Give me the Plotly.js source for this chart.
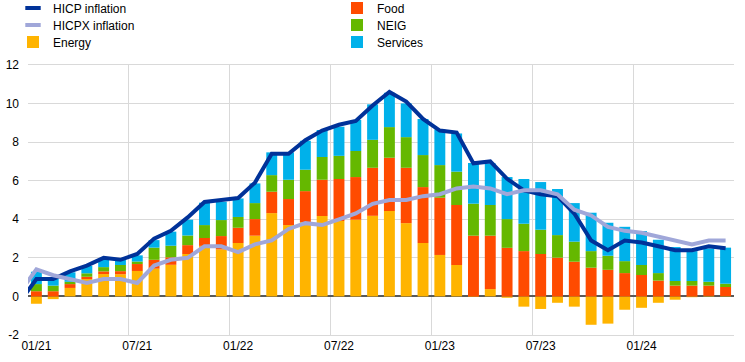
<!DOCTYPE html>
<html><head><meta charset="utf-8">
<script src="https://cdn.plot.ly/plotly-3.0.1.min.js"></script>
<style>html,body{margin:0;padding:0;background:#fff}#chart{width:745px;height:362px}</style>
</head><body><div id="chart"></div>
<script>
const months = ['12/20','01/21','02/21','03/21','04/21','05/21','06/21','07/21','08/21','09/21','10/21','11/21','12/21',
  '01/22','02/22','03/22','04/22','05/22','06/22','07/22','08/22','09/22','10/22','11/22','12/22',
  '01/23','02/23','03/23','04/23','05/23','06/23','07/23','08/23','09/23','10/23','11/23','12/23',
  '01/24','02/24','03/24','04/24','05/24','06/24'];
const energy = [null,-0.38,-0.14,0.44,0.90,1.16,1.15,1.32,1.44,1.64,2.20,2.62,2.44,
  2.77,3.15,4.32,3.70,3.86,4.17,3.91,3.98,4.18,4.43,3.80,2.77,
  2.15,1.63,-0.03,0.38,-0.07,-0.53,-0.65,-0.33,-0.53,-1.47,-1.41,-0.69,
  -0.59,-0.33,-0.17,-0.04,0.03,0.02];
const food = [null,0.27,0.27,0.20,0.12,0.14,0.16,0.36,0.46,0.39,0.46,0.41,0.69,
  0.79,0.86,1.11,1.35,1.60,1.88,2.18,2.21,2.49,2.76,2.87,2.90,
  2.97,3.11,3.15,2.77,2.52,2.35,2.20,2.01,1.80,1.49,1.38,1.21,
  1.11,0.82,0.56,0.56,0.53,0.47];
const neig = [null,0.37,0.29,0.12,0.18,0.22,0.32,0.13,0.63,0.60,0.50,0.67,0.83,
  0.56,0.83,0.86,1.00,1.11,1.18,1.20,1.35,1.45,1.59,1.59,1.66,
  1.69,1.73,1.66,1.59,1.49,1.42,1.26,1.17,1.04,0.86,0.73,0.62,
  0.52,0.39,0.24,0.24,0.20,0.17];
const services = [null,0.64,0.36,0.49,0.38,0.43,0.27,0.32,0.39,0.73,0.82,1.16,0.95,
  0.96,1.02,1.18,1.42,1.50,1.40,1.51,1.61,1.84,1.78,1.75,1.87,
  1.85,1.98,2.11,2.16,2.18,2.32,2.47,2.39,2.00,1.99,1.71,1.78,
  1.76,1.73,1.76,1.55,1.73,1.87];
const hicp = [-0.3,0.9,0.9,1.3,1.6,2.0,1.9,2.2,3.0,3.4,4.1,4.9,5.0,
  5.1,5.9,7.4,7.4,8.1,8.6,8.9,9.1,9.9,10.6,10.1,9.2,
  8.6,8.5,6.9,7.0,6.1,5.5,5.3,5.2,4.3,2.9,2.4,2.9,
  2.8,2.6,2.4,2.4,2.6,2.5];
const hicpx = [0.2,1.4,1.1,0.9,0.7,0.9,0.9,0.7,1.6,1.9,2.0,2.6,2.6,
  2.3,2.7,2.9,3.5,3.8,3.7,4.0,4.3,4.8,5.0,5.0,5.2,
  5.3,5.6,5.7,5.6,5.3,5.5,5.5,5.3,4.5,4.2,3.6,3.4,
  3.3,3.1,2.9,2.7,2.9,2.9];
const yTicks = [-2,0,2,4,6,8,10,12];

const C = {hicp:'#003299', hicpx:'#a0a7d9', energy:'#ffb400', food:'#ff4b00', neig:'#65b800', services:'#00b1ea'};

function bar(name, y, color, legend, rank) {
  return {type:'bar', name, x:months, y, marker:{color, line:{width:0}}, legend, legendrank:rank, hoverinfo:'skip'};
}
function legendLine(name, color, legend, rank) {
  return {type:'scatter', mode:'markers', name, x:[null], y:[null], legend, legendrank:rank,
    marker:{symbol:'line-ew', size:11, color, line:{color, width:4}}};
}
const data = [
  bar('Energy', energy, C.energy, 'legend3', 1),
  bar('Food', food, C.food, 'legend', 2),
  bar('NEIG', neig, C.neig, 'legend2', 2),
  bar('Services', services, C.services, 'legend3', 2),
  {type:'scatter', mode:'lines', name:'HICP inflation', x:months, y:hicp, showlegend:false,
    line:{color:C.hicp, width:4}},
  {type:'scatter', mode:'lines', name:'HICPX inflation', x:months, y:hicpx, showlegend:false,
    line:{color:C.hicpx, width:4}},
  legendLine('HICP inflation', C.hicp, 'legend', 1),
  legendLine('HICPX inflation', C.hicpx, 'legend2', 1)
];

function leg(ypx) {
  return {orientation:'h', xref:'container', yref:'container', x:13/745, xanchor:'left',
    y:1 - ypx/362, yanchor:'middle', entrywidth:279, entrywidthmode:'pixels',
    traceorder:'normal', bgcolor:'rgba(0,0,0,0)', borderwidth:0,
    font:{family:'Arial, Liberation Sans, sans-serif', size:12, color:'#000'}};
}

const layout = {
  width:745, height:362,
  margin:{l:28, r:11, t:65, b:27, pad:0},
  paper_bgcolor:'#fff', plot_bgcolor:'#fff',
  font:{family:'Arial, Liberation Sans, sans-serif', size:12, color:'#000'},
  barmode:'relative', bargap:0.35,
  showlegend:true,
  legend:leg(8), legend2:leg(25), legend3:leg(42),
  xaxis:{type:'category', categoryorder:'array', categoryarray:months,
    range:[0.5, 42.5], tickmode:'linear', tick0:1, dtick:6, tickson:'boundaries',
    tickangle:0, automargin:false,
    showgrid:true, gridcolor:'#d9d9d9', gridwidth:1, ticks:'',
    showline:true, mirror:true, linecolor:'#d9d9d9', linewidth:1,
    tickfont:{size:12, color:'#000'}, fixedrange:true, zeroline:false},
  yaxis:{range:[-2,12], tickmode:'array', tickvals:yTicks, ticktext:yTicks.map(String),
    showgrid:true, gridcolor:'#d9d9d9', gridwidth:1,
    zeroline:true, zerolinecolor:'#595959', zerolinewidth:2,
    showline:false, ticks:'', ticklabelstandoff:8, automargin:false,
    tickfont:{size:12, color:'#000'}, fixedrange:true}
};
Plotly.newPlot('chart', data, layout, {displayModeBar:false, staticPlot:true});
</script>
</body></html>
